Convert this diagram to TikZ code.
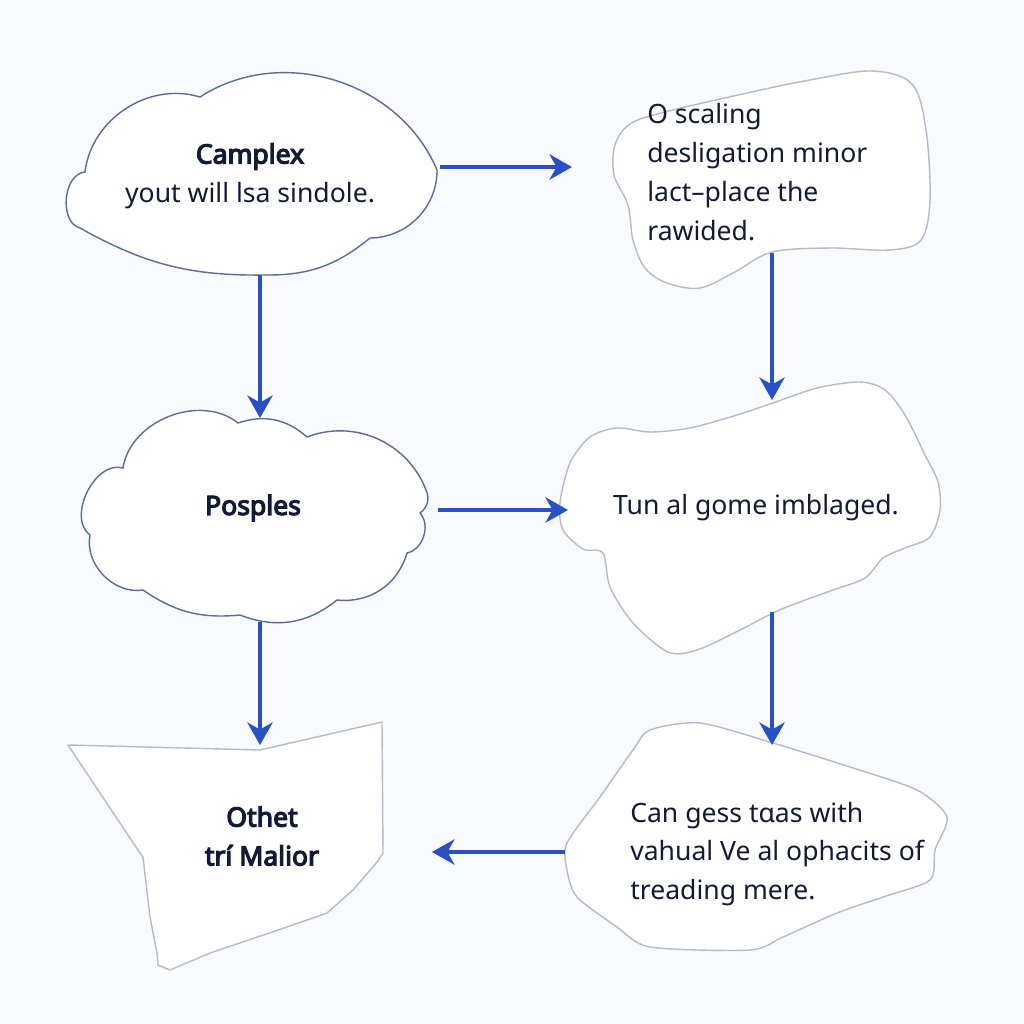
\documentclass[tikz,border=0pt]{standalone}
\usepackage{fontspec}
\setmainfont{Noto Sans}[BoldFont={Noto Sans}, BoldFeatures={FakeBold=4.5}]
\usepackage{xcolor}
\usetikzlibrary{arrows.meta}

\definecolor{bgpaper}{HTML}{F9FAFC}
\definecolor{inkblue}{HTML}{2A50C6}
\definecolor{cloudline}{HTML}{5A6C98}
\definecolor{blobline}{HTML}{B3BAC8}
\definecolor{textnavy}{HTML}{121B36}

\begin{document}
\begin{tikzpicture}[
  x=0.025cm, y=-0.025cm,
  >={Stealth[length=16pt, width=18pt, inset=5pt]},
  txt/.style={font=\fontsize{18.9pt}{27.6pt}\selectfont, text=textnavy,
              inner sep=0pt},
  cloud/.style={draw=cloudline, line width=1pt, fill=white},
  blob/.style={draw=blobline, line width=1pt, fill=white},
  arr/.style={->, draw=inkblue, fill=inkblue, line width=2.6pt},
]

% ---- paper ----
\fill[bgpaper] (0,0) rectangle (1024,1024);
\useasboundingbox (0,0) rectangle (1024,1024);

% ---- Camplex cloud ----
\draw[cloud] (85,172) to[bend left=50] (200,97) to[bend left=50] (437,170)
  to[bend left=45] (370,238) to[bend left=20] (265,275)
  to[bend left=15] (80,228) to[bend left=80] cycle;
\node[txt, align=center] (camplex) at (250,176)
  {\textbf{Camplex}\\yout will lsa sindole.};

% ---- scaling blob ----
\draw[blob] plot[smooth cycle, tension=0.55] coordinates {
  (747,93) (810,80) (872,71) (912,84) (926,130) (930,200) (921,240)
  (890,250) (830,248) (772,252) (735,272) (700,288) (667,283) (645,268)
  (633,240) (628,205) (614,175) (615,145) (630,124) (665,112)};
\node[txt, align=left, anchor=west] (scaling) at (647,172)
  {O scaling\\desligation minor\\lact--place the\\rawided.};

% ---- Posples cloud ----
\draw[cloud] (123,468) to[bend left=60] (238,423) to[bend left=30] (307,437)
  to[bend left=45] (426,490) to[bend left=40] (420,513)
  to[bend left=60] (407,553) to[bend left=40] (337,600)
  to[bend left=30] (240,615) to[bend left=20] (143,590)
  to[bend left=55] (90,535) to[bend left=80] cycle;
\node[txt] (posples) at (253,508) {\textbf{Posples}};

% ---- imblaged blob ----
\draw[blob] plot[smooth cycle, tension=0.5] coordinates {
  (560,503) (570,463) (590,437) (617,428) (650,432) (690,428) (737,415)
  (773,403) (817,388) (860,382) (885,390) (905,415) (925,455) (938,482)
  (940,510) (930,537) (905,548) (883,558) (865,578) (833,590) (797,603)
  (773,613) (740,630) (697,650) (668,652) (633,623) (610,587) (603,553)
  (583,549) (563,530)};
\node[txt] (imblaged) at (756,508) {Tun al gome imblaged.};

% ---- Malior polygon ----
\draw[blob, line join=round] (68,745) -- (260,750) -- (382,722) -- (383,853)
  -- (377,862) -- (353,890) -- (327,913) -- (287,927) -- (210,953)
  -- (170,970) -- (158,965) -- (157,953) -- (150,917) -- (143,857)
  -- (140,853) -- cycle;
\node[txt, align=center] (malior) at (262,836)
  {\textbf{Othet}\\\textbf{trí Malior}};

% ---- treading blob ----
\draw[blob] plot[smooth cycle, tension=0.45] coordinates {
  (650,730) (700,723) (773,743) (850,767) (917,790) (947,817) (935,850)
  (930,880) (883,897) (837,913) (783,937) (750,950) (650,947) (617,927)
  (577,897) (567,870) (567,843) (600,797) (633,750)};
\node[txt, align=left, anchor=west] (treading) at (630,854)
  {Can gess tɑas with\\vahual Ve al ophacits of\\treading mere.};

% ---- ports ----
\coordinate (p1) at (440,167);  \coordinate (q1) at (572,167);
\coordinate (p2) at (260,275);  \coordinate (q2) at (260,418);
\coordinate (p3) at (772,253);  \coordinate (q3) at (772,400);
\coordinate (p4) at (438,510);  \coordinate (q4) at (568,510);
\coordinate (p5) at (260,622);  \coordinate (q5) at (260,745);
\coordinate (p6) at (772,612);  \coordinate (q6) at (772,745);
\coordinate (p7) at (565,852);  \coordinate (q7) at (432,852);

% ---- arrows ----
\draw[arr] (p1) -- (q1);
\draw[arr] (p2) -- (q2);
\draw[arr] (p3) -- (q3);
\draw[arr] (p4) -- (q4);
\draw[arr] (p5) -- (q5);
\draw[arr] (p6) -- (q6);
\draw[arr] (p7) -- (q7);

\end{tikzpicture}
\end{document}
